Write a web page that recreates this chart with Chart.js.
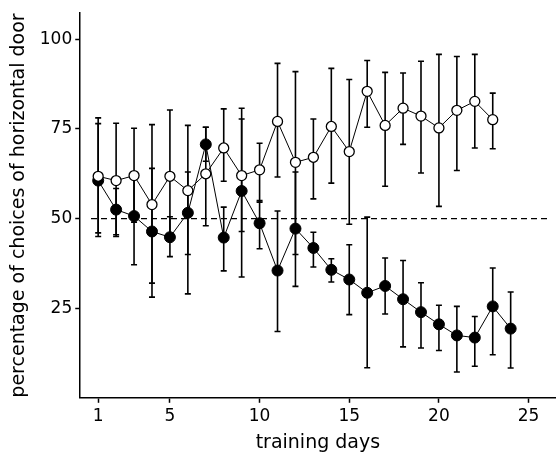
<!DOCTYPE html>
<html>
<head>
<meta charset="utf-8">
<script src="https://cdn.jsdelivr.net/npm/chart.js@4/dist/chart.umd.min.js"></script>
<style>
  html, body { margin: 0; padding: 0; background: #fff; overflow: hidden; }
  #wrap { width: 556px; height: 466px; overflow: hidden; }
</style>
</head>
<body>
<div id="wrap"><canvas id="mycanvas" width="562" height="466"></canvas></div>
<script>
// training days
var days = [1,2,3,4,5,6,7,8,9,10,11,12,13,14,15,16,17,18,19,20,21,22,23,24];

// open circles (days 1-23)
var openMean = [61.8,60.6,62.0,53.9,61.8,57.8,62.5,69.7,62.0,63.6,77.1,65.7,67.1,75.7,68.7,85.5,76.0,80.8,78.6,75.3,80.2,82.7,77.6];
var openLo   = [46.0,45.0,49.0,32.0,44.0,40.0,48.0,60.4,46.4,54.6,61.6,40.0,55.5,59.9,48.4,75.5,59.0,70.7,62.7,53.4,63.4,69.7,69.5];
var openHi   = [78.1,76.6,75.2,76.2,80.3,76.0,75.5,80.6,77.8,71.0,93.3,91.0,77.8,91.9,88.8,94.1,90.8,90.6,93.9,95.8,95.2,95.8,85.0];

// filled circles (days 1-24)
var fillMean = [60.6,52.5,50.7,46.4,44.8,51.6,70.7,44.7,57.7,48.7,35.5,47.2,41.8,35.7,33.0,29.3,31.2,27.5,23.9,20.5,17.4,16.8,25.5,19.3];
var fillLo   = [45.0,45.5,37.1,28.1,39.4,29.0,66.0,35.4,33.7,41.6,18.5,31.1,36.5,32.3,23.2,8.4,23.4,14.2,13.9,13.2,7.2,8.8,12.0,8.3];
var fillHi   = [76.5,58.4,63.0,64.0,50.5,63.0,75.5,53.2,80.8,55.0,52.1,63.0,46.2,38.8,42.7,50.4,39.0,38.3,32.1,25.8,25.5,22.7,36.2,29.5];

// chance level line
var chanceX = [0.6, 26.2];
var chanceY = [50, 50];

var xTicks = [1,5,10,15,20,25];
var yTicks = [25,50,75,100];

function pts(xs, ys) {
    var out = [];
    for (var i = 0; i < ys.length; i++) out.push({x: xs[i], y: ys[i]});
    return out;
}

var errorBars = {
    id: 'errorBars',
    beforeDatasetsDraw: function(chart) {
        var ctx = chart.ctx;
        var xs = chart.scales.x, ys = chart.scales.y;
        var sets = [[openLo, openHi], [fillLo, fillHi]];
        ctx.save();
        ctx.strokeStyle = '#000';
        ctx.lineWidth = 1.6;
        for (var s = 0; s < sets.length; s++) {
            var lo = sets[s][0], hi = sets[s][1];
            for (var i = 0; i < lo.length; i++) {
                var px = xs.getPixelForValue(days[i]);
                var p1 = ys.getPixelForValue(lo[i]);
                var p2 = ys.getPixelForValue(hi[i]);
                ctx.beginPath();
                ctx.moveTo(px, p1); ctx.lineTo(px, p2);
                ctx.moveTo(px - 3, p1); ctx.lineTo(px + 3, p1);
                ctx.moveTo(px - 3, p2); ctx.lineTo(px + 3, p2);
                ctx.stroke();
            }
        }
        ctx.restore();
    }
};

var font = "'DejaVu Sans', sans-serif";

var chartdata = {
    datasets: [
        {
            label: 'open',
            data: pts(days, openMean),
            borderColor: '#000',
            borderWidth: 1,
            backgroundColor: '#fff',
            pointBackgroundColor: '#fff',
            pointBorderColor: '#000',
            pointBorderWidth: 1.3,
            pointRadius: 5,
            tension: 0
        },
        {
            label: 'filled',
            data: pts(days, fillMean),
            borderColor: '#000',
            borderWidth: 1,
            backgroundColor: '#000',
            pointBackgroundColor: '#000',
            pointBorderColor: '#000',
            pointBorderWidth: 1,
            pointRadius: 5.5,
            tension: 0
        },
        {
            label: 'chance',
            data: pts(chanceX, chanceY),
            borderColor: '#000',
            borderWidth: 1.3,
            borderDash: [6, 4],
            pointRadius: 0,
            fill: false
        }
    ]
};

var ctx = document.getElementById('mycanvas');

var LineGraph = new Chart(ctx, {
    type: 'line',
    data: chartdata,
    plugins: [errorBars],
    options: {
        responsive: false,
        animation: false,
        layout: { padding: { top: 12, right: 1, left: 4, bottom: 8 } },
        plugins: { legend: { display: false }, tooltip: { enabled: false } },
        scales: {
            x: {
                type: 'linear',
                min: 0,
                max: 26.5,
                afterBuildTicks: function(scale) {
                    scale.ticks = xTicks.map(function(v) { return {value: v}; });
                },
                grid: { drawOnChartArea: false, tickLength: 5, color: '#000', tickWidth: 1.5 },
                border: { color: '#000', width: 1.5 },
                ticks: { color: '#000', font: { family: font, size: 17 }, padding: 4, maxRotation: 0 },
                title: { display: true, text: 'training days', color: '#000', font: { family: font, size: 19 }, padding: { top: 0 } }
            },
            y: {
                min: 0,
                max: 107.3,
                afterBuildTicks: function(scale) {
                    scale.ticks = yTicks.map(function(v) { return {value: v}; });
                },
                grid: { drawOnChartArea: false, tickLength: 5, color: '#000', tickWidth: 1.5 },
                border: { color: '#000', width: 1.5 },
                ticks: { color: '#000', font: { family: font, size: 17 }, padding: 3 },
                title: { display: true, text: 'percentage of choices of horizontal door', color: '#000', font: { family: font, size: 19 }, padding: { bottom: 6 } }
            }
        }
    }
});
</script>
</body>
</html>
